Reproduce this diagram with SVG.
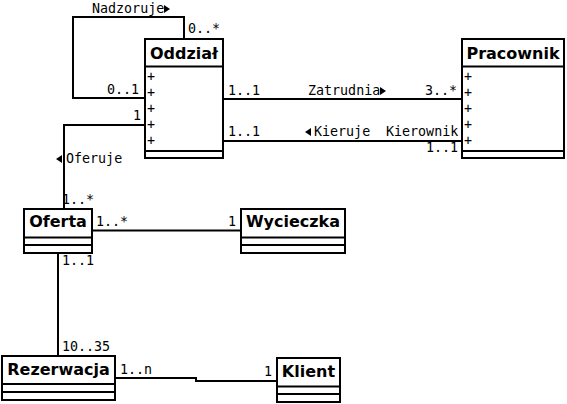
<svg xmlns="http://www.w3.org/2000/svg" width="567" height="404" viewBox="0 0 567 404">
<style>
.box{fill:#fff;stroke:#000;stroke-width:2}
.sep{stroke:#000;stroke-width:2}
.edge{fill:none;stroke:#000;stroke-width:2}
.title{font-family:"DejaVu Sans",sans-serif;font-weight:bold;font-size:16px;text-anchor:middle}
.lbl{font-family:"DejaVu Sans Mono",monospace;font-size:13.33px}
.attr{font-family:"DejaVu Sans Mono",monospace;font-size:13.33px}
.tri{fill:#000}
</style>
<rect width="567" height="404" fill="#fff"/>
<g id="connectors">
<path class="edge" d="M184 39 V17 H73 V98 H145"/>
<path class="edge" d="M223 99 H462"/>
<path class="edge" d="M223 141 H462"/>
<path class="edge" d="M145 125 H64 V209"/>
<path class="edge" d="M92 230.5 H241"/>
<path class="edge" d="M58 253 V356"/>
<path class="edge" d="M115 378 H196 V381 H277"/>
<text class="lbl" x="92" y="13">Nadzoruje</text>
<polygon class="tri" points="164,5 170,9 164,13"/>
<text class="lbl" x="188" y="33">0..*</text>
<text class="lbl" x="107" y="94">0..1</text>
<text class="lbl" x="133" y="120">1</text>
<text class="lbl" x="228" y="95">1..1</text>
<text class="lbl" x="308" y="95">Zatrudnia</text>
<polygon class="tri" points="380,87 386,91 380,95"/>
<text class="lbl" x="425" y="95">3..*</text>
<text class="lbl" x="228" y="136">1..1</text>
<polygon class="tri" points="311,128 305,132 311,136"/>
<text class="lbl" x="314" y="136">Kieruje</text>
<text class="lbl" x="386" y="136">Kierownik</text>
<text class="lbl" x="426" y="152">1..1</text>
<polygon class="tri" points="62,155 56,159 62,163"/>
<text class="lbl" x="66" y="163">Oferuje</text>
<text class="lbl" x="62" y="204">1..*</text>
<text class="lbl" x="96" y="226">1..*</text>
<text class="lbl" x="228" y="226">1</text>
<text class="lbl" x="62" y="265">1..1</text>
<text class="lbl" x="62" y="351">10..35</text>
<text class="lbl" x="120" y="374">1..n</text>
<text class="lbl" x="264" y="376">1</text>
</g>
<g id="oddzial">
<rect class="box" x="145" y="39" width="78" height="119"/>
<line class="sep" x1="145" y1="66.5" x2="223" y2="66.5"/>
<line class="sep" x1="145" y1="151" x2="223" y2="151"/>
<text class="title" x="184" y="58.5">Oddział</text>
<text class="attr" x="147" y="80.5">+</text>
<text class="attr" x="147" y="96.5">+</text>
<text class="attr" x="147" y="112.5">+</text>
<text class="attr" x="147" y="128.5">+</text>
<text class="attr" x="147" y="144.5">+</text>
</g>
<g id="pracownik">
<rect class="box" x="462" y="39" width="102" height="119"/>
<line class="sep" x1="462" y1="66.5" x2="564" y2="66.5"/>
<line class="sep" x1="462" y1="151" x2="564" y2="151"/>
<text class="title" x="513" y="58.5">Pracownik</text>
<text class="attr" x="464" y="80.5">+</text>
<text class="attr" x="464" y="96.5">+</text>
<text class="attr" x="464" y="112.5">+</text>
<text class="attr" x="464" y="128.5">+</text>
<text class="attr" x="464" y="144.5">+</text>
</g>
<g id="oferta">
<rect class="box" x="24" y="209" width="68" height="44"/>
<line class="sep" x1="24" y1="237.5" x2="92" y2="237.5"/>
<line class="sep" x1="24" y1="245" x2="92" y2="245"/>
<text class="title" x="58" y="227">Oferta</text>
</g>
<g id="wycieczka">
<rect class="box" x="241" y="209" width="104" height="44"/>
<line class="sep" x1="241" y1="237.5" x2="345" y2="237.5"/>
<line class="sep" x1="241" y1="245" x2="345" y2="245"/>
<text class="title" x="293" y="227">Wycieczka</text>
</g>
<g id="rezerwacja">
<rect class="box" x="2" y="356" width="113" height="44"/>
<line class="sep" x1="2" y1="384" x2="115" y2="384"/>
<line class="sep" x1="2" y1="392" x2="115" y2="392"/>
<text class="title" x="58.5" y="375">Rezerwacja</text>
</g>
<g id="klient">
<rect class="box" x="277" y="358" width="63" height="44"/>
<line class="sep" x1="277" y1="386.5" x2="340" y2="386.5"/>
<line class="sep" x1="277" y1="394" x2="340" y2="394"/>
<text class="title" x="308.5" y="377">Klient</text>
</g>
</svg>
